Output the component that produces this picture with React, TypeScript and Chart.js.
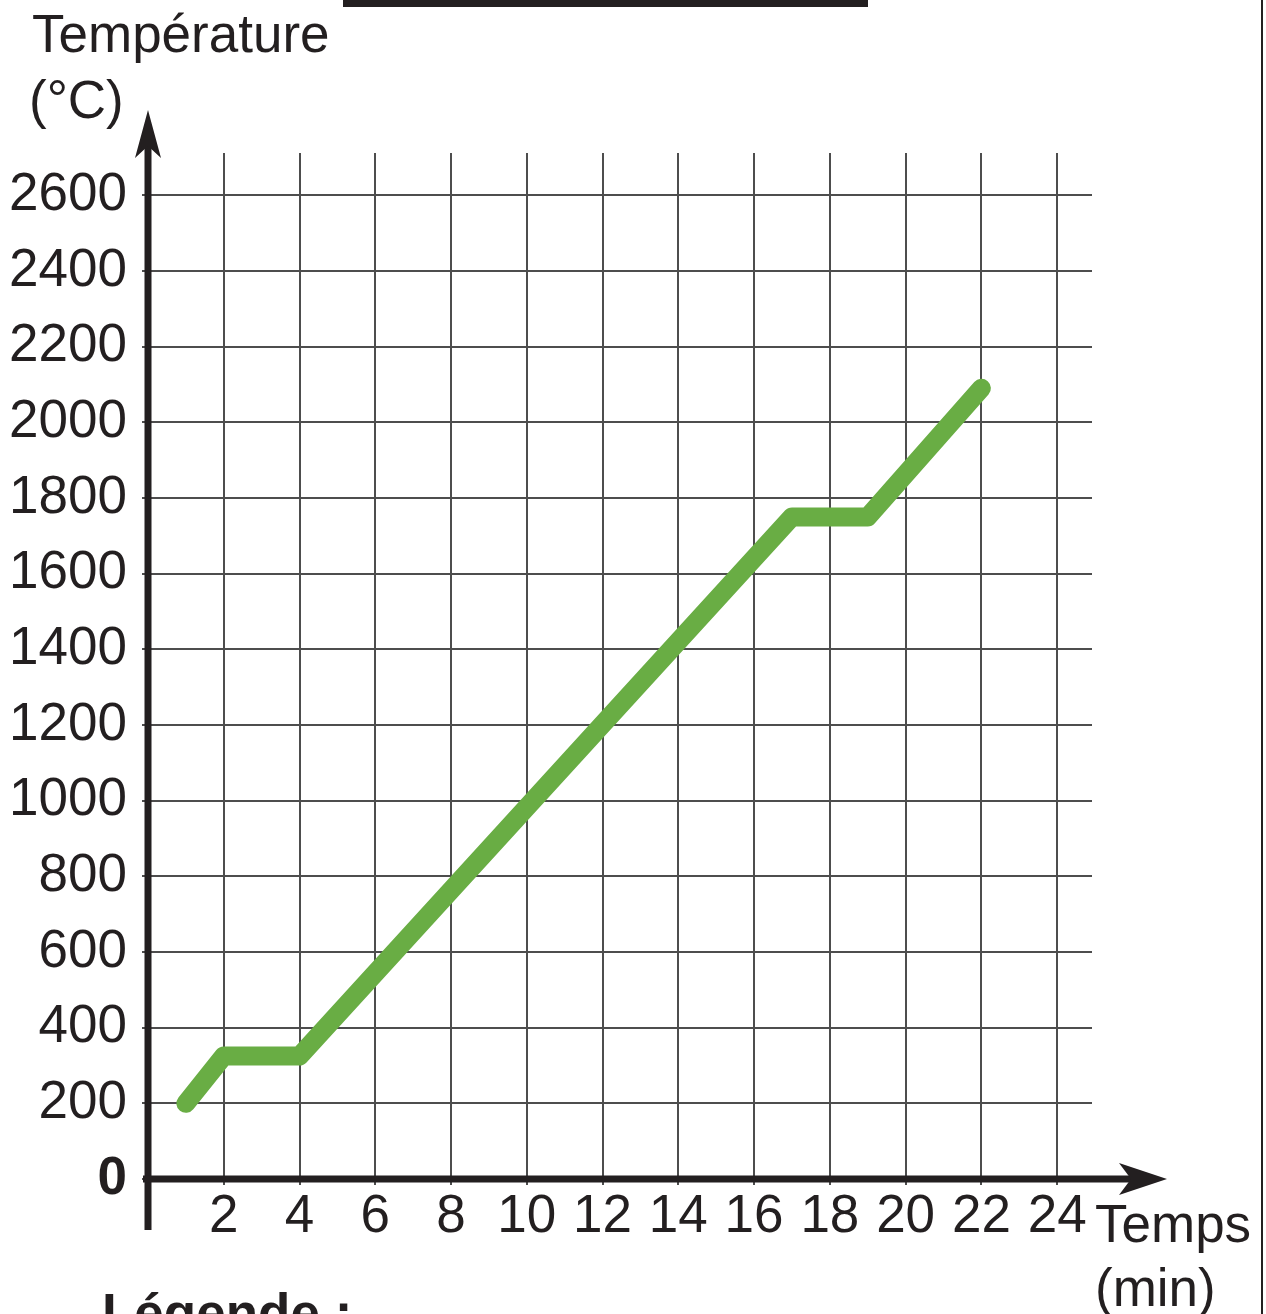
import React, { useEffect, useRef } from "react";
import { Chart, registerables } from "chart.js";

Chart.register(...registerables);

// ---- data ----
const timeMin = [1, 2, 4, 17, 19, 22];
const tempC = [200, 325, 325, 1750, 1750, 2090];
const xTickStep = 2;
const yTickStep = 200;
const xMax = 24.92;
const yMax = 2712;

const FONT = "'Liberation Sans', Arial, Helvetica, sans-serif";
const FS = 53;
const INK = "#231f20";
const GRID = "#4d4d4d";
const GREEN = "#69ad44";

const axesPlugin = {
  id: "arrowAxes",
  afterDraw(chart: any) {
    const { ctx, chartArea } = chart;
    const xs = chart.scales.x;
    const ys = chart.scales.y;
    const x0 = xs.getPixelForValue(0);
    const y0 = ys.getPixelForValue(0);
    ctx.save();
    ctx.strokeStyle = INK;
    ctx.fillStyle = INK;
    ctx.lineWidth = 7;
    ctx.lineCap = "butt";
    // y axis
    const yTip = chartArea.top - 43;
    ctx.beginPath();
    ctx.moveTo(x0, y0 + 51);
    ctx.lineTo(x0, yTip + 20);
    ctx.stroke();
    ctx.beginPath();
    ctx.moveTo(x0, yTip);
    ctx.lineTo(x0 + 13, yTip + 48);
    ctx.lineTo(x0, yTip + 36);
    ctx.lineTo(x0 - 13, yTip + 48);
    ctx.closePath();
    ctx.fill();
    // x axis
    const xTip = chartArea.right + 75;
    ctx.beginPath();
    ctx.moveTo(x0 - 5, y0);
    ctx.lineTo(xTip - 20, y0);
    ctx.stroke();
    ctx.beginPath();
    ctx.moveTo(xTip, y0);
    ctx.lineTo(xTip - 48, y0 - 16);
    ctx.lineTo(xTip - 36, y0);
    ctx.lineTo(xTip - 48, y0 + 16);
    ctx.closePath();
    ctx.fill();
    ctx.restore();
  },
};

export default function App() {
  const ref = useRef<HTMLCanvasElement | null>(null);

  useEffect(() => {
    if (!ref.current) return;
    const points = timeMin.map((t, i) => ({ x: t, y: tempC[i] }));
    const chart = new Chart(ref.current, {
      type: "line",
      data: {
        datasets: [
          {
            data: points,
            borderColor: GREEN,
            borderWidth: 19,
            borderCapStyle: "round",
            borderJoinStyle: "round",
            pointRadius: 0,
            tension: 0,
            fill: false,
          },
        ],
      },
      options: {
        animation: false,
        responsive: false,
        devicePixelRatio: 1,
        layout: { padding: { left: 0, top: 153, right: 174, bottom: 0 } },
        plugins: { legend: { display: false }, tooltip: { enabled: false } },
        scales: {
          x: {
            type: "linear",
            min: 0,
            max: xMax,
            border: { display: false },
            grid: { color: GRID, lineWidth: 2, tickLength: 6 },
            ticks: {
              stepSize: xTickStep,
              includeBounds: false,
              autoSkip: false,
              maxRotation: 0,
              padding: 1,
              color: INK,
              font: { family: FONT, size: FS },
              callback: (v: any) => (v === 0 ? "" : String(v)),
            },
            afterFit: (s: any) => {
              s.height = 135;
            },
          },
          y: {
            type: "linear",
            min: 0,
            max: yMax,
            border: { display: false },
            grid: { color: GRID, lineWidth: 2, tickLength: 6 },
            ticks: {
              stepSize: yTickStep,
              includeBounds: false,
              autoSkip: false,
              padding: 15,
              color: INK,
              callback: (v: any) => String(v),
              font: (c: any) => ({
                family: FONT,
                size: FS,
                weight: c.tick && c.tick.value === 0 ? "bold" : "normal",
              }),
            },
            afterFit: (s: any) => {
              s.width = 148;
            },
          },
        },
      },
      plugins: [axesPlugin],
    } as any);
    return () => chart.destroy();
  }, []);

  const txt: React.CSSProperties = {
    position: "absolute",
    fontFamily: FONT,
    fontSize: FS,
    lineHeight: FS + "px",
    color: INK,
    whiteSpace: "nowrap",
    margin: 0,
  };

  return (
    <div
      style={{
        position: "absolute",
        left: 0,
        top: 0,
        width: 1266,
        height: 1314,
        overflow: "hidden",
        background: "#ffffff",
      }}
    >
      <canvas ref={ref} width={1266} height={1314} style={{ position: "absolute", left: 0, top: 0 }} />
      <div style={{ position: "absolute", left: 343, top: 0, width: 525, height: 7, background: INK }} />
      <div style={{ position: "absolute", left: 1261, top: 0, width: 2, height: 1314, background: INK }} />
      <div style={{ ...txt, left: 32, top: 7 }}>Température</div>
      <div style={{ ...txt, left: 29, top: 73 }}>(°C)</div>
      <div style={{ ...txt, left: 1095, top: 1197 }}>Temps</div>
      <div style={{ ...txt, left: 1095, top: 1261 }}>(min)</div>
      <div style={{ ...txt, left: 102, top: 1286, fontWeight: "bold" }}>Légende :</div>
    </div>
  );
}
